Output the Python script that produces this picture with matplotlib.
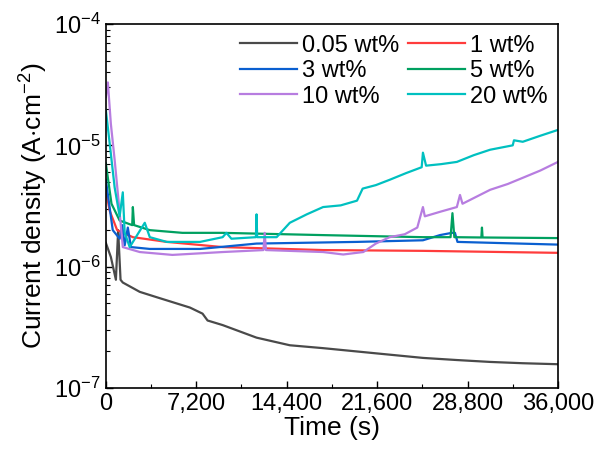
import matplotlib
matplotlib.use('Agg')
from matplotlib import pyplot as plt
import matplotlib.ticker as mticker

plt.rcParams['font.family'] = ['Liberation Sans', 'DejaVu Sans']
plt.rcParams['mathtext.fontset'] = 'custom'
plt.rcParams['mathtext.rm'] = 'Liberation Sans'
plt.rcParams['mathtext.it'] = 'Liberation Sans:italic'
plt.rcParams['mathtext.bf'] = 'Liberation Sans:bold'

# data (time in s, current density in A/cm2)
labels = ['0.05 wt%', '1 wt%', '3 wt%', '5 wt%', '10 wt%', '20 wt%']
colors = ['#4a4a4a', '#ff3c3c', '#0a5fd0', '#00a060', '#b77de0', '#00c0c0']

t_005 = [0, 400, 800, 980, 1170, 1350, 2700, 4050, 6700, 7700, 8100, 9300, 12000,
         14650, 17300, 21300, 25250, 27950, 30600, 33200, 36000]
j_005 = [1.57e-6, 1.2e-6, 7.8e-7, 2.0e-6, 7.8e-7, 7.4e-7, 6.2e-7, 5.6e-7, 4.6e-7, 4.1e-7,
         3.6e-7, 3.3e-7, 2.6e-7, 2.25e-7, 2.13e-7, 1.94e-7, 1.77e-7, 1.70e-7, 1.64e-7,
         1.60e-7, 1.57e-7]

t_1 = [0, 300, 900, 2150, 4850, 9300, 17300, 25250, 36000]
j_1 = [4.3e-6, 2.9e-6, 2.0e-6, 1.75e-6, 1.6e-6, 1.45e-6, 1.37e-6, 1.35e-6, 1.3e-6]

t_3 = [0, 150, 550, 1100, 1300, 1500, 1750, 2000, 3500, 7500, 12000, 20000, 25250,
       26600, 27550, 27800, 28000, 36000]
j_3 = [5.2e-6, 4.0e-6, 2.0e-6, 1.7e-6, 2.2e-6, 1.5e-6, 2.1e-6, 1.45e-6, 1.4e-6, 1.4e-6,
       1.55e-6, 1.6e-6, 1.65e-6, 1.82e-6, 1.9e-6, 1.9e-6, 1.6e-6, 1.52e-6]

t_5 = [0, 450, 1100, 2100, 2150, 2250, 3500, 6100, 9300, 17300, 25250, 27450, 27600,
       27750, 29900, 29950, 30000, 36000]
j_5 = [7.1e-6, 3.3e-6, 2.4e-6, 2.2e-6, 3.1e-6, 2.2e-6, 2.0e-6, 1.9e-6, 1.9e-6, 1.82e-6,
       1.75e-6, 1.75e-6, 2.76e-6, 1.75e-6, 1.74e-6, 2.1e-6, 1.74e-6, 1.72e-6]

t_10 = [0, 160, 400, 700, 1100, 1350, 2700, 5300, 9300, 12550, 12650, 12750, 17300,
        18900, 20500, 21500, 22600, 23800, 24800, 25250, 25400, 26700, 27950, 28200,
        28400, 30600, 32000, 33200, 34600, 36000]
j_10 = [2.5e-5, 3.3e-5, 1.5e-5, 7.6e-6, 2.8e-6, 1.45e-6, 1.32e-6, 1.25e-6, 1.32e-6,
        1.37e-6, 1.9e-6, 1.37e-6, 1.32e-6, 1.26e-6, 1.32e-6, 1.55e-6, 1.75e-6, 1.85e-6,
        2.1e-6, 3.1e-6, 2.6e-6, 2.85e-6, 3.1e-6, 3.9e-6, 3.3e-6, 4.3e-6, 4.8e-6, 5.4e-6,
        6.2e-6, 7.3e-6]

t_20 = [0, 300, 700, 1100, 1350, 1500, 1900, 3100, 3500, 4850, 7500, 9300, 9600, 10000,
        11950, 12000, 12050, 13600, 14650, 16000, 17300, 18700, 20000, 20450, 21500,
        22600, 23900, 25150, 25250, 25500, 26700, 27950, 29300, 30600, 32400, 32500,
        33200, 34600, 36000]
j_20 = [1.95e-5, 1.05e-5, 4.5e-6, 2.6e-6, 4.1e-6, 1.9e-6, 1.45e-6, 2.3e-6, 1.75e-6,
        1.6e-6, 1.6e-6, 1.75e-6, 1.9e-6, 1.7e-6, 1.75e-6, 2.7e-6, 1.75e-6, 1.75e-6, 2.3e-6,
        2.7e-6, 3.1e-6, 3.2e-6, 3.5e-6, 4.4e-6, 4.7e-6, 5.2e-6, 5.9e-6, 6.6e-6, 8.7e-6,
        6.8e-6, 7.0e-6, 7.3e-6, 8.3e-6, 9.2e-6, 1.0e-5, 1.1e-5, 1.07e-5, 1.2e-5, 1.34e-5]

x_ticks = [0, 7200, 14400, 21600, 28800, 36000]

series = [(t_005, j_005), (t_1, j_1), (t_3, j_3), (t_5, j_5), (t_10, j_10), (t_20, j_20)]

fig = plt.figure(figsize=(5.98, 4.53), dpi=100)
ax = fig.add_axes([0.177, 0.1435, 0.756, 0.8035])

handles = []
for (t, j), lab, c in zip(series, labels, colors):
    h, = ax.plot(t, j, color=c, lw=1.6, label=lab)
    handles.append(h)

ax.set_yscale('log')
ax.set_ylim(1e-7, 1e-4)
ax.set_xlim(0, 36000)
ax.set_xticks(x_ticks)
ax.xaxis.set_major_formatter(mticker.FuncFormatter(lambda v, p: f'{int(v):,}'))
ax.xaxis.set_minor_locator(mticker.MultipleLocator(3600))
ax.yaxis.set_minor_locator(mticker.LogLocator(base=10, subs=range(2, 10)))
ax.yaxis.set_minor_formatter(mticker.NullFormatter())

ax.tick_params(which='both', direction='in', top=False, right=False, labelsize=17)
ax.tick_params(which='major', length=5, width=1)
ax.tick_params(which='minor', length=3, width=0.8)
for s in ax.spines.values():
    s.set_linewidth(1.2)

ax.set_xlabel('Time (s)', fontsize=19, labelpad=1)
ax.set_ylabel('Current density (A$\\cdot$cm$^{-2}$)', fontsize=19, labelpad=3)

order = [0, 2, 4, 1, 3, 5]
ax.legend([handles[i] for i in order], [labels[i] for i in order], ncol=2,
          loc='upper right', frameon=False, fontsize=17, handlelength=2.4,
          handletextpad=0.2, columnspacing=0.4, labelspacing=0.15,
          borderaxespad=0.2, borderpad=0.25)

fig.savefig('out.png', dpi=100)
